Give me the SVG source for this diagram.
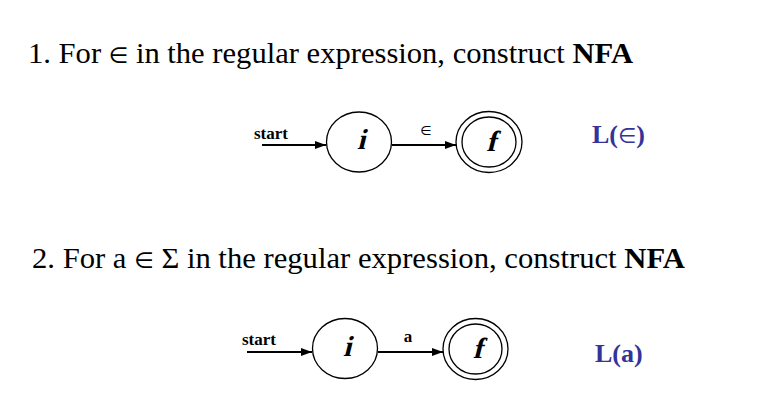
<svg xmlns="http://www.w3.org/2000/svg" width="769" height="406" viewBox="0 0 769 406">
<defs>
<marker id="ah" markerWidth="12" markerHeight="10" refX="11" refY="5" orient="auto" markerUnits="userSpaceOnUse">
<path d="M0,1 L11,5 L0,9 Z" fill="#000"/>
</marker>
<style>
.title{font-family:"Liberation Serif",serif;font-size:30px;fill:#000}
.el{font-family:"DejaVu Sans",sans-serif;font-size:22px}
.st{font-family:"Liberation Serif",serif;font-size:17px;font-weight:bold;fill:#000}
.lbl{font-family:"Liberation Serif",serif;font-size:17px;font-weight:bold;fill:#000}
.sym{font-family:"DejaVu Sans",sans-serif;font-size:13px;fill:#000}
.state{font-family:"Liberation Serif",serif;font-size:29px;font-weight:bold;fill:#000}
.lang{font-family:"Liberation Serif",serif;font-size:26px;font-weight:bold;fill:#333399}
.c{fill:#fff;stroke:#000;stroke-width:1.3}
.e{stroke:#000;stroke-width:2;fill:none}
</style>
</defs>
<rect width="769" height="406" fill="#fff"/>
<text class="title" x="28" y="63" textLength="605" lengthAdjust="spacingAndGlyphs">1. For <tspan class="el">∈</tspan> in the regular expression, construct <tspan font-weight="bold">NFA</tspan></text>
<text class="title" x="32" y="268" textLength="653" lengthAdjust="spacingAndGlyphs">2. For a <tspan class="el">∈</tspan> Σ in the regular expression, construct <tspan font-weight="bold">NFA</tspan></text>

<g id="connectors">
<line class="e" x1="262" y1="145" x2="326" y2="145" marker-end="url(#ah)"/>
<line class="e" x1="392" y1="145" x2="456" y2="145" marker-end="url(#ah)"/>
<line class="e" x1="247" y1="352" x2="312" y2="352" marker-end="url(#ah)"/>
<line class="e" x1="378" y1="352" x2="443" y2="352" marker-end="url(#ah)"/>
<text class="st" x="254" y="139">start</text>
<text class="sym" x="426" y="135" text-anchor="middle">∈</text>
<text class="st" x="242" y="345">start</text>
<text class="lbl" x="408" y="342" text-anchor="middle">a</text>
</g>

<g id="n1_i">
<ellipse class="c" cx="359" cy="142" rx="32.5" ry="30"/>
<text class="state" transform="translate(361,149) skewX(-14)" text-anchor="middle">i</text>
</g>
<g id="n1_f">
<ellipse class="c" cx="489" cy="142" rx="33" ry="30.5"/>
<ellipse class="c" cx="489" cy="142" rx="27" ry="25"/>
<text class="state" transform="translate(491,151) skewX(-14)" text-anchor="middle">f</text>
</g>
<g id="n2_i">
<ellipse class="c" cx="345" cy="348.5" rx="32.5" ry="30"/>
<text class="state" transform="translate(347,356) skewX(-14)" text-anchor="middle">i</text>
</g>
<g id="n2_f">
<ellipse class="c" cx="475.5" cy="349" rx="32.5" ry="30.5"/>
<ellipse class="c" cx="475.5" cy="349" rx="26.5" ry="25"/>
<text class="state" transform="translate(477.5,358) skewX(-14)" text-anchor="middle">f</text>
</g>
<text class="lang" x="592" y="143">L(<tspan font-family="DejaVu Sans, sans-serif" font-size="21" font-weight="normal">∈</tspan>)</text>
<text class="lang" x="595" y="362">L(a)</text>
</svg>
